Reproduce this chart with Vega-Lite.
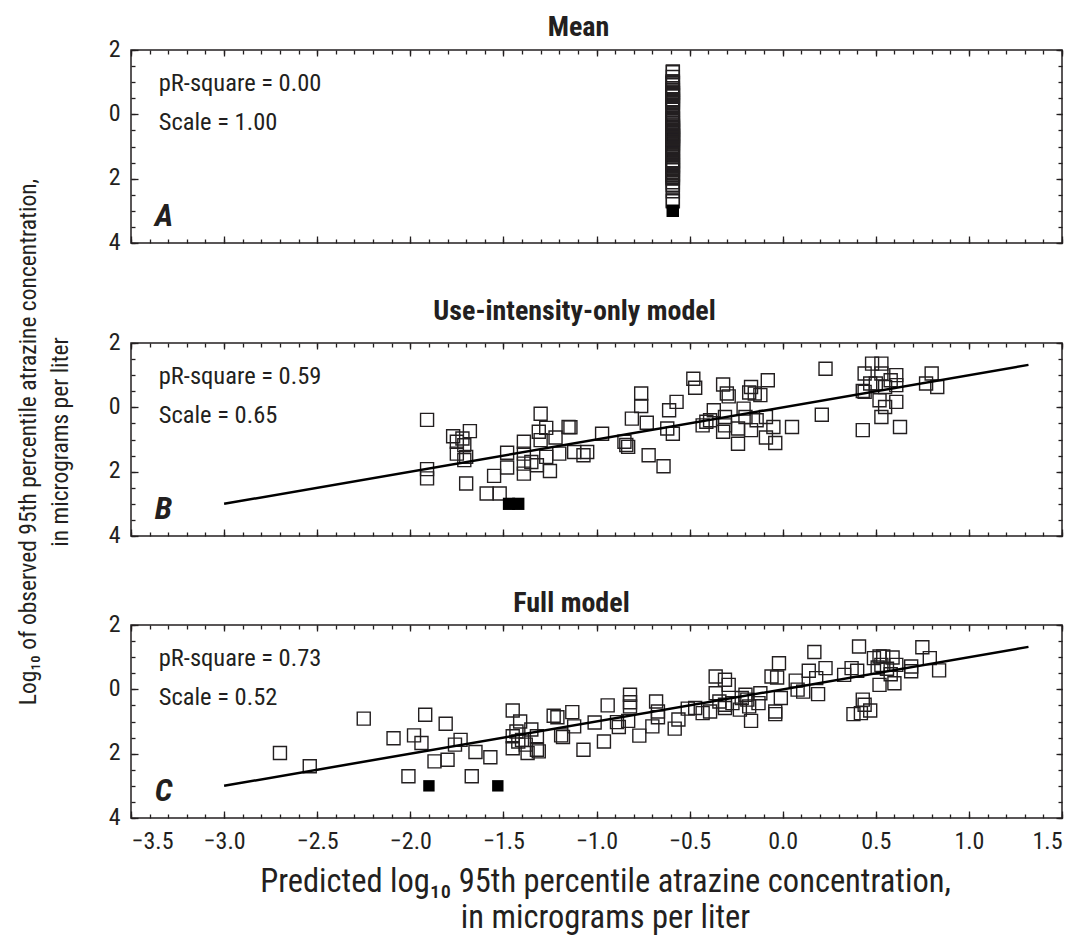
{
 "$schema": "https://vega.github.io/schema/vega-lite/v6.json",
 "background": "white",
 "padding": {"left": 15, "top": 13, "right": 10, "bottom": 2},
 "bounds": "flush",
 "spacing": 100,
 "config": {
  "font": "Liberation Sans Narrow, Roboto Condensed, DejaVu Sans Condensed, Liberation Sans, sans-serif",
  "view": {"stroke": "#231f20", "strokeWidth": 1.5},
  "axis": {"labelFontSize": 24, "labelColor": "#231f20", "tickColor": "#231f20", "tickWidth": 1.3, "titleFontSize": 27, "titleFontWeight": "normal", "titleColor": "#231f20", "grid": false, "domain": false},
  "title": {"fontSize": 28, "fontWeight": "bold", "color": "#231f20", "anchor": "middle", "frame": "group"},
  "text": {"color": "#231f20"}
 },
 "datasets": {
  "fit": [
   {"p": "B", "x": -3.0, "y": -3.0}, {"p": "B", "x": 1.32, "y": 1.32},
   {"p": "C", "x": -3.0, "y": -3.0}, {"p": "C", "x": 1.32, "y": 1.32}
  ],
  "stats": [
   {"p": "A", "pr": "pR-square = 0.00", "sc": "Scale = 1.00", "lt": "A"},
   {"p": "B", "pr": "pR-square = 0.59", "sc": "Scale = 0.65", "lt": "B"},
   {"p": "C", "pr": "pR-square = 0.73", "sc": "Scale = 0.52", "lt": "C"}
  ],
  "pts": [
   {"p":"A","x":-0.59,"y":-1.98,"c":0},{"p":"A","x":-0.59,"y":-2.39,"c":0},{"p":"A","x":-0.59,"y":-0.91,"c":0},{"p":"A","x":-0.59,"y":-1.52,"c":0},{"p":"A","x":-0.59,"y":-2.70,"c":0},{"p":"A","x":-0.59,"y":-1.43,"c":0},{"p":"A","x":-0.59,"y":-1.67,"c":0},{"p":"A","x":-0.59,"y":-0.79,"c":0},{"p":"A","x":-0.59,"y":-2.24,"c":0},{"p":"A","x":-0.59,"y":-1.07,"c":0},
   {"p":"A","x":-0.59,"y":-2.19,"c":0},{"p":"A","x":-0.59,"y":-1.72,"c":0},{"p":"A","x":-0.59,"y":-1.57,"c":0},{"p":"A","x":-0.59,"y":-2.68,"c":0},{"p":"A","x":-0.59,"y":-1.95,"c":0},{"p":"A","x":-0.59,"y":-2.11,"c":0},{"p":"A","x":-0.59,"y":-0.66,"c":0},{"p":"A","x":-0.59,"y":-1.46,"c":0},{"p":"A","x":-0.59,"y":-1.83,"c":0},{"p":"A","x":-0.59,"y":-1.31,"c":0},
   {"p":"A","x":-0.59,"y":-1.00,"c":0},{"p":"A","x":-0.59,"y":-1.62,"c":0},{"p":"A","x":-0.59,"y":-1.59,"c":0},{"p":"A","x":-0.59,"y":-1.99,"c":0},{"p":"A","x":-0.59,"y":-1.74,"c":0},{"p":"A","x":-0.59,"y":-1.25,"c":0},{"p":"A","x":-0.59,"y":-1.47,"c":0},{"p":"A","x":-0.59,"y":-1.88,"c":0},{"p":"A","x":-0.59,"y":-1.93,"c":0},{"p":"A","x":-0.59,"y":-0.82,"c":0},
   {"p":"A","x":-0.59,"y":-0.87,"c":0},{"p":"A","x":-0.59,"y":-1.43,"c":0},{"p":"A","x":-0.59,"y":-1.48,"c":0},{"p":"A","x":-0.59,"y":-0.71,"c":0},{"p":"A","x":-0.59,"y":-1.15,"c":0},{"p":"A","x":-0.59,"y":-1.89,"c":0},{"p":"A","x":-0.59,"y":-1.03,"c":0},{"p":"A","x":-0.59,"y":-1.62,"c":0},{"p":"A","x":-0.59,"y":-0.50,"c":0},{"p":"A","x":-0.59,"y":-1.02,"c":0},
   {"p":"A","x":-0.59,"y":-1.17,"c":0},{"p":"A","x":-0.59,"y":-0.98,"c":0},{"p":"A","x":-0.59,"y":-0.17,"c":0},{"p":"A","x":-0.59,"y":-0.40,"c":0},{"p":"A","x":-0.59,"y":-0.53,"c":0},{"p":"A","x":-0.59,"y":-1.44,"c":0},{"p":"A","x":-0.59,"y":-1.15,"c":0},{"p":"A","x":-0.59,"y":-0.38,"c":0},{"p":"A","x":-0.59,"y":-0.69,"c":0},{"p":"A","x":-0.59,"y":-0.87,"c":0},
   {"p":"A","x":-0.59,"y":-1.22,"c":0},{"p":"A","x":-0.59,"y":-0.94,"c":0},{"p":"A","x":-0.59,"y":-0.60,"c":0},{"p":"A","x":-0.59,"y":-0.58,"c":0},{"p":"A","x":-0.59,"y":-0.74,"c":0},{"p":"A","x":-0.59,"y":-0.69,"c":0},{"p":"A","x":-0.59,"y":0.40,"c":0},{"p":"A","x":-0.59,"y":0.30,"c":0},{"p":"A","x":-0.59,"y":-0.12,"c":0},{"p":"A","x":-0.59,"y":-0.38,"c":0},
   {"p":"A","x":-0.59,"y":-0.48,"c":0},{"p":"A","x":-0.59,"y":-0.43,"c":0},{"p":"A","x":-0.59,"y":0.14,"c":0},{"p":"A","x":-0.59,"y":-0.58,"c":0},{"p":"A","x":-0.59,"y":-0.63,"c":0},{"p":"A","x":-0.59,"y":-0.32,"c":0},{"p":"A","x":-0.59,"y":-0.53,"c":0},{"p":"A","x":-0.59,"y":-0.98,"c":0},{"p":"A","x":-0.59,"y":-0.43,"c":0},{"p":"A","x":-0.59,"y":-0.27,"c":0},
   {"p":"A","x":-0.59,"y":-0.17,"c":0},{"p":"A","x":-0.59,"y":-0.12,"c":0},{"p":"A","x":-0.59,"y":0.40,"c":0},{"p":"A","x":-0.59,"y":-0.77,"c":0},{"p":"A","x":-0.59,"y":-0.69,"c":0},{"p":"A","x":-0.59,"y":0.81,"c":0},{"p":"A","x":-0.59,"y":-0.27,"c":0},{"p":"A","x":-0.59,"y":0.37,"c":0},{"p":"A","x":-0.59,"y":0.27,"c":0},{"p":"A","x":-0.59,"y":-0.01,"c":0},
   {"p":"A","x":-0.59,"y":-0.07,"c":0},{"p":"A","x":-0.59,"y":0.58,"c":0},{"p":"A","x":-0.59,"y":1.16,"c":0},{"p":"A","x":-0.59,"y":0.35,"c":0},{"p":"A","x":-0.59,"y":-0.15,"c":0},{"p":"A","x":-0.59,"y":0.66,"c":0},{"p":"A","x":-0.59,"y":0.45,"c":0},{"p":"A","x":-0.59,"y":0.66,"c":0},{"p":"A","x":-0.59,"y":0.58,"c":0},{"p":"A","x":-0.59,"y":1.33,"c":0},
   {"p":"A","x":-0.59,"y":-0.32,"c":0},{"p":"A","x":-0.59,"y":-0.48,"c":0},{"p":"A","x":-0.59,"y":-0.77,"c":0},{"p":"A","x":-0.59,"y":-0.74,"c":0},{"p":"A","x":-0.59,"y":-0.66,"c":0},{"p":"A","x":-0.59,"y":0.97,"c":0},{"p":"A","x":-0.59,"y":1.02,"c":0},{"p":"A","x":-0.59,"y":1.02,"c":0},{"p":"A","x":-0.59,"y":0.99,"c":0},{"p":"A","x":-0.59,"y":0.68,"c":0},
   {"p":"A","x":-0.59,"y":0.76,"c":0},{"p":"A","x":-0.59,"y":0.64,"c":0},{"p":"A","x":-0.59,"y":0.76,"c":0},{"p":"A","x":-0.59,"y":0.14,"c":0},{"p":"A","x":-0.59,"y":0.47,"c":0},{"p":"A","x":-0.59,"y":0.19,"c":0},{"p":"A","x":-0.59,"y":0.71,"c":0},{"p":"A","x":-0.59,"y":0.56,"c":0},{"p":"A","x":-0.59,"y":1.31,"c":0},{"p":"A","x":-0.59,"y":0.97,"c":0},
   {"p":"A","x":-0.59,"y":0.59,"c":0},{"p":"A","x":-0.59,"y":-3.0,"c":1},{"p":"A","x":-0.59,"y":-3.0,"c":1},

   {"p":"B","x":-1.91,"y":-0.39,"c":0},{"p":"B","x":-1.91,"y":-1.92,"c":0},{"p":"B","x":-1.91,"y":-2.21,"c":0},{"p":"B","x":-1.77,"y":-0.90,"c":0},{"p":"B","x":-1.72,"y":-0.97,"c":0},{"p":"B","x":-1.68,"y":-0.74,"c":0},{"p":"B","x":-1.75,"y":-1.07,"c":0},{"p":"B","x":-1.71,"y":-1.18,"c":0},{"p":"B","x":-1.75,"y":-1.44,"c":0},{"p":"B","x":-1.70,"y":-1.54,"c":0},
   {"p":"B","x":-1.71,"y":-1.64,"c":0},{"p":"B","x":-1.70,"y":-2.37,"c":0},{"p":"B","x":-1.59,"y":-2.68,"c":0},{"p":"B","x":-1.52,"y":-2.68,"c":0},{"p":"B","x":-1.55,"y":-2.13,"c":0},{"p":"B","x":-1.48,"y":-1.87,"c":0},{"p":"B","x":-1.48,"y":-1.41,"c":0},{"p":"B","x":-1.39,"y":-1.07,"c":0},{"p":"B","x":-1.39,"y":-1.44,"c":0},{"p":"B","x":-1.39,"y":-1.75,"c":0},
   {"p":"B","x":-1.39,"y":-2.06,"c":0},{"p":"B","x":-1.35,"y":-1.70,"c":0},{"p":"B","x":-1.32,"y":-1.80,"c":0},{"p":"B","x":-1.30,"y":-0.20,"c":0},{"p":"B","x":-1.31,"y":-0.76,"c":0},{"p":"B","x":-1.30,"y":-1.02,"c":0},{"p":"B","x":-1.27,"y":-0.64,"c":0},{"p":"B","x":-1.27,"y":-1.54,"c":0},{"p":"B","x":-1.22,"y":-0.94,"c":0},{"p":"B","x":-1.25,"y":-1.98,"c":0},
   {"p":"B","x":-1.20,"y":-1.44,"c":0},{"p":"B","x":-1.15,"y":-0.61,"c":0},{"p":"B","x":-1.14,"y":-0.62,"c":0},{"p":"B","x":-1.12,"y":-1.39,"c":0},{"p":"B","x":-1.07,"y":-1.49,"c":0},{"p":"B","x":-1.05,"y":-1.39,"c":0},{"p":"B","x":-0.97,"y":-0.82,"c":0},{"p":"B","x":-0.85,"y":-1.07,"c":0},{"p":"B","x":-0.84,"y":-1.17,"c":0},{"p":"B","x":-0.83,"y":-1.23,"c":0},
   {"p":"B","x":-0.81,"y":-0.35,"c":0},{"p":"B","x":-0.76,"y":0.43,"c":0},{"p":"B","x":-0.76,"y":0.04,"c":0},{"p":"B","x":-0.73,"y":-0.48,"c":0},{"p":"B","x":-0.72,"y":-1.49,"c":0},{"p":"B","x":-0.64,"y":-1.83,"c":0},{"p":"B","x":-0.62,"y":-0.66,"c":0},{"p":"B","x":-0.61,"y":-0.09,"c":0},{"p":"B","x":-0.57,"y":0.17,"c":0},{"p":"B","x":-0.59,"y":-0.82,"c":0},
   {"p":"B","x":-0.48,"y":0.89,"c":0},{"p":"B","x":-0.47,"y":0.61,"c":0},{"p":"B","x":-0.43,"y":-0.56,"c":0},{"p":"B","x":-0.41,"y":-0.45,"c":0},{"p":"B","x":-0.39,"y":-0.40,"c":0},{"p":"B","x":-0.37,"y":-0.09,"c":0},{"p":"B","x":-0.32,"y":0.71,"c":0},{"p":"B","x":-0.30,"y":0.43,"c":0},{"p":"B","x":-0.29,"y":0.34,"c":0},{"p":"B","x":-0.31,"y":-0.30,"c":0},
   {"p":"B","x":-0.31,"y":-0.56,"c":0},{"p":"B","x":-0.32,"y":-0.76,"c":0},{"p":"B","x":-0.24,"y":-1.13,"c":0},{"p":"B","x":-0.24,"y":-0.66,"c":0},{"p":"B","x":-0.21,"y":-0.04,"c":0},{"p":"B","x":-0.20,"y":-0.30,"c":0},{"p":"B","x":-0.17,"y":-0.71,"c":0},{"p":"B","x":-0.17,"y":0.63,"c":0},{"p":"B","x":-0.18,"y":0.46,"c":0},{"p":"B","x":-0.15,"y":0.43,"c":0},
   {"p":"B","x":-0.12,"y":0.38,"c":0},{"p":"B","x":-0.14,"y":-0.40,"c":0},{"p":"B","x":-0.09,"y":-0.30,"c":0},{"p":"B","x":-0.08,"y":0.84,"c":0},{"p":"B","x":-0.05,"y":-0.61,"c":0},{"p":"B","x":-0.09,"y":-0.94,"c":0},{"p":"B","x":-0.04,"y":-1.11,"c":0},{"p":"B","x":0.05,"y":-0.61,"c":0},{"p":"B","x":0.23,"y":1.20,"c":0},{"p":"B","x":0.21,"y":-0.23,"c":0},
   {"p":"B","x":0.44,"y":1.05,"c":0},{"p":"B","x":0.48,"y":1.36,"c":0},{"p":"B","x":0.53,"y":1.36,"c":0},{"p":"B","x":0.53,"y":1.05,"c":0},{"p":"B","x":0.61,"y":1.00,"c":0},{"p":"B","x":0.61,"y":0.69,"c":0},{"p":"B","x":0.47,"y":0.74,"c":0},{"p":"B","x":0.50,"y":0.74,"c":0},{"p":"B","x":0.43,"y":0.51,"c":0},{"p":"B","x":0.44,"y":0.48,"c":0},
   {"p":"B","x":0.52,"y":0.22,"c":0},{"p":"B","x":0.55,"y":0.01,"c":0},{"p":"B","x":0.61,"y":0.17,"c":0},{"p":"B","x":0.53,"y":-0.30,"c":0},{"p":"B","x":0.43,"y":-0.71,"c":0},{"p":"B","x":0.63,"y":-0.61,"c":0},{"p":"B","x":0.55,"y":0.63,"c":0},{"p":"B","x":0.58,"y":0.84,"c":0},{"p":"B","x":0.77,"y":0.74,"c":0},{"p":"B","x":0.80,"y":1.05,"c":0},
   {"p":"B","x":0.83,"y":0.63,"c":0},{"p":"B","x":-1.47,"y":-3.0,"c":1},{"p":"B","x":-1.42,"y":-3.0,"c":1},

   {"p":"C","x":-2.70,"y":-1.98,"c":0},{"p":"C","x":-2.54,"y":-2.39,"c":0},{"p":"C","x":-2.25,"y":-0.91,"c":0},{"p":"C","x":-2.09,"y":-1.52,"c":0},{"p":"C","x":-2.01,"y":-2.70,"c":0},{"p":"C","x":-1.98,"y":-1.43,"c":0},{"p":"C","x":-1.94,"y":-1.67,"c":0},{"p":"C","x":-1.92,"y":-0.79,"c":0},{"p":"C","x":-1.87,"y":-2.24,"c":0},{"p":"C","x":-1.81,"y":-1.07,"c":0},
   {"p":"C","x":-1.80,"y":-2.19,"c":0},{"p":"C","x":-1.76,"y":-1.72,"c":0},{"p":"C","x":-1.73,"y":-1.57,"c":0},{"p":"C","x":-1.67,"y":-2.70,"c":0},{"p":"C","x":-1.65,"y":-1.95,"c":0},{"p":"C","x":-1.57,"y":-2.11,"c":0},{"p":"C","x":-1.45,"y":-0.66,"c":0},{"p":"C","x":-1.45,"y":-1.46,"c":0},{"p":"C","x":-1.45,"y":-1.83,"c":0},{"p":"C","x":-1.43,"y":-1.31,"c":0},
   {"p":"C","x":-1.41,"y":-1.00,"c":0},{"p":"C","x":-1.42,"y":-1.62,"c":0},{"p":"C","x":-1.40,"y":-1.57,"c":0},{"p":"C","x":-1.37,"y":-1.98,"c":0},{"p":"C","x":-1.38,"y":-1.72,"c":0},{"p":"C","x":-1.35,"y":-1.25,"c":0},{"p":"C","x":-1.32,"y":-1.46,"c":0},{"p":"C","x":-1.32,"y":-1.88,"c":0},{"p":"C","x":-1.31,"y":-1.93,"c":0},{"p":"C","x":-1.23,"y":-0.82,"c":0},
   {"p":"C","x":-1.21,"y":-0.87,"c":0},{"p":"C","x":-1.19,"y":-1.43,"c":0},{"p":"C","x":-1.18,"y":-1.48,"c":0},{"p":"C","x":-1.13,"y":-0.71,"c":0},{"p":"C","x":-1.12,"y":-1.15,"c":0},{"p":"C","x":-1.07,"y":-1.88,"c":0},{"p":"C","x":-1.01,"y":-1.03,"c":0},{"p":"C","x":-0.96,"y":-1.62,"c":0},{"p":"C","x":-0.94,"y":-0.50,"c":0},{"p":"C","x":-0.89,"y":-1.02,"c":0},
   {"p":"C","x":-0.88,"y":-1.17,"c":0},{"p":"C","x":-0.83,"y":-0.98,"c":0},{"p":"C","x":-0.82,"y":-0.17,"c":0},{"p":"C","x":-0.82,"y":-0.40,"c":0},{"p":"C","x":-0.82,"y":-0.53,"c":0},{"p":"C","x":-0.77,"y":-1.44,"c":0},{"p":"C","x":-0.70,"y":-1.15,"c":0},{"p":"C","x":-0.68,"y":-0.38,"c":0},{"p":"C","x":-0.67,"y":-0.69,"c":0},{"p":"C","x":-0.67,"y":-0.87,"c":0},
   {"p":"C","x":-0.58,"y":-1.22,"c":0},{"p":"C","x":-0.56,"y":-0.94,"c":0},{"p":"C","x":-0.51,"y":-0.60,"c":0},{"p":"C","x":-0.47,"y":-0.58,"c":0},{"p":"C","x":-0.43,"y":-0.74,"c":0},{"p":"C","x":-0.39,"y":-0.69,"c":0},{"p":"C","x":-0.36,"y":0.40,"c":0},{"p":"C","x":-0.31,"y":0.30,"c":0},{"p":"C","x":-0.36,"y":-0.12,"c":0},{"p":"C","x":-0.34,"y":-0.38,"c":0},
   {"p":"C","x":-0.31,"y":-0.48,"c":0},{"p":"C","x":-0.27,"y":-0.43,"c":0},{"p":"C","x":-0.29,"y":0.14,"c":0},{"p":"C","x":-0.31,"y":-0.58,"c":0},{"p":"C","x":-0.23,"y":-0.63,"c":0},{"p":"C","x":-0.19,"y":-0.32,"c":0},{"p":"C","x":-0.18,"y":-0.53,"c":0},{"p":"C","x":-0.17,"y":-0.98,"c":0},{"p":"C","x":-0.13,"y":-0.43,"c":0},{"p":"C","x":-0.22,"y":-0.27,"c":0},
   {"p":"C","x":-0.20,"y":-0.17,"c":0},{"p":"C","x":-0.12,"y":-0.12,"c":0},{"p":"C","x":-0.06,"y":0.40,"c":0},{"p":"C","x":-0.04,"y":-0.77,"c":0},{"p":"C","x":-0.04,"y":-0.69,"c":0},{"p":"C","x":-0.02,"y":0.81,"c":0},{"p":"C","x":-0.01,"y":-0.27,"c":0},{"p":"C","x":-0.03,"y":0.37,"c":0},{"p":"C","x":0.07,"y":0.27,"c":0},{"p":"C","x":0.08,"y":-0.01,"c":0},
   {"p":"C","x":0.11,"y":-0.07,"c":0},{"p":"C","x":0.14,"y":0.58,"c":0},{"p":"C","x":0.17,"y":1.16,"c":0},{"p":"C","x":0.18,"y":0.35,"c":0},{"p":"C","x":0.19,"y":-0.15,"c":0},{"p":"C","x":0.23,"y":0.66,"c":0},{"p":"C","x":0.33,"y":0.45,"c":0},{"p":"C","x":0.37,"y":0.66,"c":0},{"p":"C","x":0.40,"y":0.58,"c":0},{"p":"C","x":0.41,"y":1.33,"c":0},
   {"p":"C","x":0.43,"y":-0.32,"c":0},{"p":"C","x":0.44,"y":-0.48,"c":0},{"p":"C","x":0.38,"y":-0.77,"c":0},{"p":"C","x":0.42,"y":-0.74,"c":0},{"p":"C","x":0.47,"y":-0.66,"c":0},{"p":"C","x":0.49,"y":0.97,"c":0},{"p":"C","x":0.52,"y":1.02,"c":0},{"p":"C","x":0.54,"y":1.02,"c":0},{"p":"C","x":0.59,"y":0.99,"c":0},{"p":"C","x":0.51,"y":0.68,"c":0},
   {"p":"C","x":0.53,"y":0.76,"c":0},{"p":"C","x":0.56,"y":0.64,"c":0},{"p":"C","x":0.61,"y":0.76,"c":0},{"p":"C","x":0.52,"y":0.14,"c":0},{"p":"C","x":0.58,"y":0.47,"c":0},{"p":"C","x":0.60,"y":0.19,"c":0},{"p":"C","x":0.69,"y":0.71,"c":0},{"p":"C","x":0.69,"y":0.56,"c":0},{"p":"C","x":0.75,"y":1.31,"c":0},{"p":"C","x":0.79,"y":0.97,"c":0},
   {"p":"C","x":0.84,"y":0.59,"c":0},{"p":"C","x":-1.90,"y":-3.0,"c":1},{"p":"C","x":-1.53,"y":-3.0,"c":1}
  ]
 },
 "vconcat": [
  {
   "width": 931, "height": 193,
   "title": {"text": "Mean", "offset": -5, "dx": -18},
   "layer": [
    {"data": {"name": "pts"}, "transform": [{"filter": "datum.p == 'A' && datum.c == 0"}],
     "mark": {"type": "point", "shape": "square", "filled": false, "size": 169, "color": "#231f20", "strokeWidth": 1.4, "opacity": 1},
     "encoding": {
      "x": {"field": "x", "type": "quantitative", "scale": {"domain": [-3.5, 1.5], "nice": false, "zero": false},
            "axis": {"orient": "bottom", "values": [-3.5,-3,-2.5,-2,-1.5,-1,-0.5,0,0.5,1,1.5], "tickSize": -7, "labels": false, "title": null}},
      "y": {"field": "y", "type": "quantitative", "scale": {"domain": [-4, 2], "nice": false, "zero": false},
            "axis": {"orient": "left", "values": [-4,-2,0,2], "tickSize": -7, "labelPadding": 18, "labelOffset": -1, "labelExpr": "format(abs(datum.value), 'd')",
                     "title": ["Log₁₀ of observed 95th percentile atrazine concentration,", "in micrograms per liter"], "titleFontSize": 23.5, "titleY": 391.5, "titlePadding": 36, "titleLineHeight": 32}}
     }},
    {"data": {"name": "pts"}, "transform": [{"filter": "datum.p == 'A' && datum.c == 1"}],
     "mark": {"type": "point", "shape": "square", "filled": true, "size": 150, "color": "#000000", "opacity": 1},
     "encoding": {
      "x": {"field": "x", "type": "quantitative", "axis": {"orient": "top", "values": [-3.5,-3.4,-3.3,-3.2,-3.1,-3,-2.9,-2.8,-2.7,-2.6,-2.5,-2.4,-2.3,-2.2,-2.1,-2,-1.9,-1.8,-1.7,-1.6,-1.5,-1.4,-1.3,-1.2,-1.1,-1,-0.9,-0.8,-0.7,-0.6,-0.5,-0.4,-0.3,-0.2,-0.1,0,0.1,0.2,0.3,0.4,0.5,0.6,0.7,0.8,0.9,1,1.1,1.2,1.3,1.4,1.5], "tickSize": -4, "labels": false, "title": null}},
      "y": {"field": "y", "type": "quantitative", "axis": {"orient": "right", "values": [-4,-3.5,-3,-2.5,-2,-1.5,-1,-0.5,0,0.5,1,1.5,2], "tickSize": -4, "labels": false, "title": null}}
     }},
    {"data": {"name": "stats"}, "transform": [{"filter": "datum.p == 'A'"}],
     "mark": {"type": "text", "align": "left", "baseline": "alphabetic", "fontSize": 24.5},
     "encoding": {
      "x": {"datum": -3.351, "type": "quantitative", "axis": {"orient": "bottom", "values": [-3.5,-3.4,-3.3,-3.2,-3.1,-3,-2.9,-2.8,-2.7,-2.6,-2.5,-2.4,-2.3,-2.2,-2.1,-2,-1.9,-1.8,-1.7,-1.6,-1.5,-1.4,-1.3,-1.2,-1.1,-1,-0.9,-0.8,-0.7,-0.6,-0.5,-0.4,-0.3,-0.2,-0.1,0,0.1,0.2,0.3,0.4,0.5,0.6,0.7,0.8,0.9,1,1.1,1.2,1.3,1.4,1.5], "tickSize": -4, "labels": false, "title": null}},
      "y": {"datum": 0.73, "type": "quantitative", "axis": {"orient": "left", "values": [-4,-3.5,-3,-2.5,-2,-1.5,-1,-0.5,0,0.5,1,1.5,2], "tickSize": -4, "labels": false, "title": null}},
      "text": {"field": "pr"}
     }},
    {"data": {"name": "stats"}, "transform": [{"filter": "datum.p == 'A'"}],
     "mark": {"type": "text", "align": "left", "baseline": "alphabetic", "fontSize": 24.5},
     "encoding": {
      "x": {"datum": -3.351, "type": "quantitative", "axis": {"orient": "top", "values": [-3.5,-3,-2.5,-2,-1.5,-1,-0.5,0,0.5,1,1.5], "tickSize": -6, "labels": false, "title": null}},
      "y": {"datum": -0.5, "type": "quantitative", "axis": {"orient": "right", "values": [-4,-2,0,2], "tickSize": -6, "labels": false, "title": null}},
      "text": {"field": "sc"}
     }},
    {"data": {"name": "stats"}, "transform": [{"filter": "datum.p == 'A'"}],
     "mark": {"type": "text", "align": "left", "baseline": "alphabetic", "fontSize": 32, "fontWeight": "bold", "fontStyle": "italic"},
     "encoding": {
      "x": {"datum": -3.373, "type": "quantitative", "axis": null},
      "y": {"datum": -3.46, "type": "quantitative", "axis": null},
      "text": {"field": "lt"}
     }}
   ],
   "resolve": {"axis": {"x": "independent", "y": "independent"}}
  },
  {
   "bounds": "flush",
   "spacing": 89,
   "vconcat": [
    {
     "width": 931, "height": 193,
     "title": {"text": "Use-intensity-only model", "offset": 4, "dx": -22},
     "layer": [
      {"data": {"name": "pts"}, "transform": [{"filter": "datum.p == 'B' && datum.c == 0"}],
       "mark": {"type": "point", "shape": "square", "filled": false, "size": 169, "color": "#231f20", "strokeWidth": 1.4, "opacity": 1},
       "encoding": {
        "x": {"field": "x", "type": "quantitative", "scale": {"domain": [-3.5, 1.5], "nice": false, "zero": false},
              "axis": {"orient": "bottom", "values": [-3.5,-3,-2.5,-2,-1.5,-1,-0.5,0,0.5,1,1.5], "tickSize": -7, "labels": false, "title": null}},
        "y": {"field": "y", "type": "quantitative", "scale": {"domain": [-4, 2], "nice": false, "zero": false},
              "axis": {"orient": "left", "values": [-4,-2,0,2], "tickSize": -7, "labelPadding": 18, "labelOffset": -1, "labelExpr": "format(abs(datum.value), 'd')", "title": null}}
       }},
      {"data": {"name": "pts"}, "transform": [{"filter": "datum.p == 'B' && datum.c == 1"}],
       "mark": {"type": "point", "shape": "square", "filled": true, "size": 150, "color": "#000000", "opacity": 1},
       "encoding": {
        "x": {"field": "x", "type": "quantitative", "axis": {"orient": "top", "values": [-3.5,-3.4,-3.3,-3.2,-3.1,-3,-2.9,-2.8,-2.7,-2.6,-2.5,-2.4,-2.3,-2.2,-2.1,-2,-1.9,-1.8,-1.7,-1.6,-1.5,-1.4,-1.3,-1.2,-1.1,-1,-0.9,-0.8,-0.7,-0.6,-0.5,-0.4,-0.3,-0.2,-0.1,0,0.1,0.2,0.3,0.4,0.5,0.6,0.7,0.8,0.9,1,1.1,1.2,1.3,1.4,1.5], "tickSize": -4, "labels": false, "title": null}},
        "y": {"field": "y", "type": "quantitative", "axis": {"orient": "right", "values": [-4,-3.5,-3,-2.5,-2,-1.5,-1,-0.5,0,0.5,1,1.5,2], "tickSize": -4, "labels": false, "title": null}}
       }},
      {"data": {"name": "fit"}, "transform": [{"filter": "datum.p == 'B'"}],
       "mark": {"type": "line", "color": "#000000", "strokeWidth": 2.5},
       "encoding": {
        "x": {"field": "x", "type": "quantitative", "axis": null},
        "y": {"field": "y", "type": "quantitative", "axis": null}
       }},
      {"data": {"name": "stats"}, "transform": [{"filter": "datum.p == 'B'"}],
       "mark": {"type": "text", "align": "left", "baseline": "alphabetic", "fontSize": 24.5},
       "encoding": {
        "x": {"datum": -3.351, "type": "quantitative", "axis": {"orient": "bottom", "values": [-3.5,-3.4,-3.3,-3.2,-3.1,-3,-2.9,-2.8,-2.7,-2.6,-2.5,-2.4,-2.3,-2.2,-2.1,-2,-1.9,-1.8,-1.7,-1.6,-1.5,-1.4,-1.3,-1.2,-1.1,-1,-0.9,-0.8,-0.7,-0.6,-0.5,-0.4,-0.3,-0.2,-0.1,0,0.1,0.2,0.3,0.4,0.5,0.6,0.7,0.8,0.9,1,1.1,1.2,1.3,1.4,1.5], "tickSize": -4, "labels": false, "title": null}},
        "y": {"datum": 0.73, "type": "quantitative", "axis": {"orient": "left", "values": [-4,-3.5,-3,-2.5,-2,-1.5,-1,-0.5,0,0.5,1,1.5,2], "tickSize": -4, "labels": false, "title": null}},
        "text": {"field": "pr"}
       }},
      {"data": {"name": "stats"}, "transform": [{"filter": "datum.p == 'B'"}],
       "mark": {"type": "text", "align": "left", "baseline": "alphabetic", "fontSize": 24.5},
       "encoding": {
        "x": {"datum": -3.351, "type": "quantitative", "axis": {"orient": "top", "values": [-3.5,-3,-2.5,-2,-1.5,-1,-0.5,0,0.5,1,1.5], "tickSize": -6, "labels": false, "title": null}},
        "y": {"datum": -0.5, "type": "quantitative", "axis": {"orient": "right", "values": [-4,-2,0,2], "tickSize": -6, "labels": false, "title": null}},
        "text": {"field": "sc"}
       }},
      {"data": {"name": "stats"}, "transform": [{"filter": "datum.p == 'B'"}],
       "mark": {"type": "text", "align": "left", "baseline": "alphabetic", "fontSize": 32, "fontWeight": "bold", "fontStyle": "italic"},
       "encoding": {
        "x": {"datum": -3.373, "type": "quantitative", "axis": null},
        "y": {"datum": -3.46, "type": "quantitative", "axis": null},
        "text": {"field": "lt"}
       }}
     ],
     "resolve": {"axis": {"x": "independent", "y": "independent"}}
    },
    {
     "width": 931, "height": 193,
     "title": {"text": "Full model", "offset": -6, "dx": -25},
     "layer": [
      {"data": {"name": "pts"}, "transform": [{"filter": "datum.p == 'C' && datum.c == 0"}],
       "mark": {"type": "point", "shape": "square", "filled": false, "size": 169, "color": "#231f20", "strokeWidth": 1.4, "opacity": 1},
       "encoding": {
        "x": {"field": "x", "type": "quantitative", "scale": {"domain": [-3.5, 1.5], "nice": false, "zero": false},
              "axis": {"orient": "bottom", "values": [-3.5,-3,-2.5,-2,-1.5,-1,-0.5,0,0.5,1,1.5], "format": ".1f", "tickSize": -7, "labelPadding": 18,
                       "title": ["Predicted log₁₀ 95th percentile atrazine concentration,", "in micrograms per liter"], "titleFontSize": 32.5, "titleX": 474, "titlePadding": 12, "titleLineHeight": 36}},
        "y": {"field": "y", "type": "quantitative", "scale": {"domain": [-4, 2], "nice": false, "zero": false},
              "axis": {"orient": "left", "values": [-4,-2,0,2], "tickSize": -7, "labelPadding": 18, "labelOffset": -1, "labelExpr": "format(abs(datum.value), 'd')", "title": null}}
       }},
      {"data": {"name": "pts"}, "transform": [{"filter": "datum.p == 'C' && datum.c == 1"}],
       "mark": {"type": "point", "shape": "square", "filled": true, "size": 130, "color": "#000000", "opacity": 1},
       "encoding": {
        "x": {"field": "x", "type": "quantitative", "axis": {"orient": "top", "values": [-3.5,-3.4,-3.3,-3.2,-3.1,-3,-2.9,-2.8,-2.7,-2.6,-2.5,-2.4,-2.3,-2.2,-2.1,-2,-1.9,-1.8,-1.7,-1.6,-1.5,-1.4,-1.3,-1.2,-1.1,-1,-0.9,-0.8,-0.7,-0.6,-0.5,-0.4,-0.3,-0.2,-0.1,0,0.1,0.2,0.3,0.4,0.5,0.6,0.7,0.8,0.9,1,1.1,1.2,1.3,1.4,1.5], "tickSize": -4, "labels": false, "title": null}},
        "y": {"field": "y", "type": "quantitative", "axis": {"orient": "right", "values": [-4,-3.5,-3,-2.5,-2,-1.5,-1,-0.5,0,0.5,1,1.5,2], "tickSize": -4, "labels": false, "title": null}}
       }},
      {"data": {"name": "fit"}, "transform": [{"filter": "datum.p == 'C'"}],
       "mark": {"type": "line", "color": "#000000", "strokeWidth": 2.5},
       "encoding": {
        "x": {"field": "x", "type": "quantitative", "axis": null},
        "y": {"field": "y", "type": "quantitative", "axis": null}
       }},
      {"data": {"name": "stats"}, "transform": [{"filter": "datum.p == 'C'"}],
       "mark": {"type": "text", "align": "left", "baseline": "alphabetic", "fontSize": 24.5},
       "encoding": {
        "x": {"datum": -3.351, "type": "quantitative", "axis": {"orient": "bottom", "values": [-3.5,-3.4,-3.3,-3.2,-3.1,-3,-2.9,-2.8,-2.7,-2.6,-2.5,-2.4,-2.3,-2.2,-2.1,-2,-1.9,-1.8,-1.7,-1.6,-1.5,-1.4,-1.3,-1.2,-1.1,-1,-0.9,-0.8,-0.7,-0.6,-0.5,-0.4,-0.3,-0.2,-0.1,0,0.1,0.2,0.3,0.4,0.5,0.6,0.7,0.8,0.9,1,1.1,1.2,1.3,1.4,1.5], "tickSize": -4, "labels": false, "title": null}},
        "y": {"datum": 0.73, "type": "quantitative", "axis": {"orient": "left", "values": [-4,-3.5,-3,-2.5,-2,-1.5,-1,-0.5,0,0.5,1,1.5,2], "tickSize": -4, "labels": false, "title": null}},
        "text": {"field": "pr"}
       }},
      {"data": {"name": "stats"}, "transform": [{"filter": "datum.p == 'C'"}],
       "mark": {"type": "text", "align": "left", "baseline": "alphabetic", "fontSize": 24.5},
       "encoding": {
        "x": {"datum": -3.351, "type": "quantitative", "axis": {"orient": "top", "values": [-3.5,-3,-2.5,-2,-1.5,-1,-0.5,0,0.5,1,1.5], "tickSize": -6, "labels": false, "title": null}},
        "y": {"datum": -0.5, "type": "quantitative", "axis": {"orient": "right", "values": [-4,-2,0,2], "tickSize": -6, "labels": false, "title": null}},
        "text": {"field": "sc"}
       }},
      {"data": {"name": "stats"}, "transform": [{"filter": "datum.p == 'C'"}],
       "mark": {"type": "text", "align": "left", "baseline": "alphabetic", "fontSize": 32, "fontWeight": "bold", "fontStyle": "italic"},
       "encoding": {
        "x": {"datum": -3.373, "type": "quantitative", "axis": null},
        "y": {"datum": -3.46, "type": "quantitative", "axis": null},
        "text": {"field": "lt"}
       }}
     ],
     "resolve": {"axis": {"x": "independent", "y": "independent"}}
    }
   ]
  }
 ]
}
